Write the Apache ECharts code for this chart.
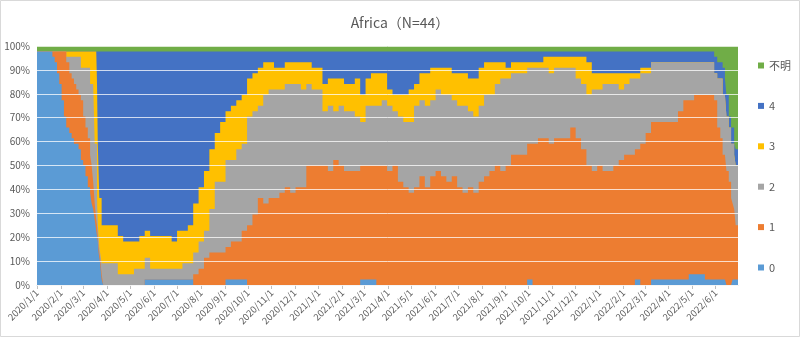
<!DOCTYPE html>
<html><head><meta charset="utf-8">
<script src="https://cdn.jsdelivr.net/npm/echarts@6/dist/echarts.min.js"></script>
<style>html,body{margin:0;padding:0;background:#fff}#c{width:800px;height:337px}</style>
</head><body><div id="c"></div>
<script>
const dates = [
'2020/1/1','2020/1/21','2020/1/24','2020/1/27','2020/1/30','2020/2/2','2020/2/5','2020/2/8','2020/2/12','2020/2/15',
'2020/2/18','2020/2/21','2020/2/24','2020/2/27','2020/3/1','2020/3/4','2020/3/7','2020/3/10','2020/3/12','2020/3/14',
'2020/3/16','2020/3/18','2020/3/19','2020/3/20','2020/3/21','2020/3/22','2020/3/23','2020/3/25','2020/3/27',
'2020/4/1','2020/4/8','2020/4/15','2020/4/22','2020/4/29','2020/5/6','2020/5/13','2020/5/20','2020/5/27','2020/6/3',
'2020/6/10','2020/6/17','2020/6/24','2020/7/1','2020/7/8','2020/7/15','2020/7/22','2020/7/29','2020/8/5','2020/8/12',
'2020/8/19','2020/8/26','2020/9/2','2020/9/9','2020/9/16','2020/9/23','2020/9/30','2020/10/7','2020/10/14','2020/10/21',
'2020/10/28','2020/11/4','2020/11/11','2020/11/18','2020/11/25','2020/12/2','2020/12/9','2020/12/16','2020/12/23','2020/12/30',
'2021/1/6','2021/1/13','2021/1/20','2021/1/27','2021/2/3','2021/2/10','2021/2/17','2021/2/24','2021/3/3','2021/3/10',
'2021/3/17','2021/3/24','2021/3/31','2021/4/7','2021/4/14','2021/4/21','2021/4/28','2021/5/5','2021/5/12','2021/5/19',
'2021/5/26','2021/6/2','2021/6/9','2021/6/16','2021/6/23','2021/6/30','2021/7/7','2021/7/14','2021/7/21','2021/7/28',
'2021/8/4','2021/8/11','2021/8/18','2021/8/25','2021/9/1','2021/9/8','2021/9/15','2021/9/22','2021/9/29','2021/10/6',
'2021/10/13','2021/10/20','2021/10/27','2021/11/3','2021/11/10','2021/11/17','2021/11/24','2021/12/1','2021/12/8','2021/12/15',
'2021/12/22','2021/12/29','2022/1/5','2022/1/12','2022/1/19','2022/1/26','2022/2/2','2022/2/9','2022/2/16','2022/2/23',
'2022/3/2','2022/3/9','2022/3/16','2022/3/23','2022/3/30','2022/4/6','2022/4/13','2022/4/20','2022/4/27','2022/5/4',
'2022/5/11','2022/5/18','2022/5/25','2022/5/30','2022/6/3','2022/6/7','2022/6/10','2022/6/13','2022/6/15','2022/6/18',
'2022/6/21','2022/6/23','2022/6/25','2022/6/27','2022/6/30'
];
// counts of countries (N=44) per level
const level0 = [
43,42,41,39,37,34,31,29,28,27, 26,26,25,23,22,20,18,17,15,14, 12,10,9,8,6,5,4,1,0,0,
0,0,0,0,0,0,1,1,1,1, 1,1,1,1,1,0,0,0,0,0, 0,1,1,1,1,0,0,0,0,0, 0,0,0,0,0,0,0,0,0,0,
0,0,0,0,0,0,1,1,1,0, 0,0,0,0,0,0,0,0,0,0, 0,0,0,0,0,0,0,0,0,0, 0,0,0,0,0,0,0,1,0,0,
0,0,0,0,0,0,0,0,0,0, 0,0,0,0,0,0,0,1,0,0, 1,1,1,1,1,1,1,2,2,2, 1,1,1,1,1,1,1,0,0,0, 1,1,1,1
];
const level1 = [
0,1,2,4,6,9,12,12,11,11, 11,10,10,11,9,9,9,7,7,5, 3,2,2,1,1,1,1,1,0,0,
0,0,0,0,0,0,0,0,0,0, 0,0,0,0,0,2,3,5,6,6, 6,6,7,7,9,11,13,16,15,16, 16,17,18,17,18,18,22,22,22,22,
21,23,22,21,21,21,21,21,21,22, 22,21,22,19,18,17,18,20,18,20, 21,20,19,20,18,17,18,17,19,20, 21,22,21,22,24,24,24,25,26,27,
27,26,27,27,27,29,27,25,22,21, 22,21,21,22,23,24,24,24,26,28, 29,29,29,29,29,31,33,32,33,33, 34,34,33,28,26,23,23,21,19,16, 14,13,10,10
];
const level2 = [
0,0,0,0,0,0,0,1,3,4, 5,6,7,6,9,11,13,13,15,18, 11,14,5,2,4,1,1,2,4,4,
4,2,2,2,3,3,4,2,2,2, 2,2,2,3,3,4,5,5,8,13, 13,16,15,17,16,20,19,17,20,20, 20,19,19,20,19,18,15,14,14,10,
12,9,11,11,11,10,8,11,11,11, 12,12,10,12,12,13,15,14,15,14, 15,15,16,14,15,16,14,14,14,15, 14,15,17,16,15,15,15,14,14,13,
13,13,13,13,13,11,11,12,13,15, 14,16,16,15,13,13,14,13,13,11, 11,11,11,11,11,9,7,7,6,6, 6,6,5,9,11,11,11,10,10,10, 11,10,11,11
];
const level3 = [
0,0,0,0,0,0,0,1,1,1, 1,1,1,3,3,3,3,6,6,6, 17,17,21,15,15,9,10,7,7,7,
7,7,6,6,5,6,5,6,6,6, 6,5,7,6,7,9,10,11,11,9, 11,9,10,9,9,7,7,7,6,5, 4,4,4,4,4,5,4,4,4,5,
5,6,5,5,5,7,5,5,6,6, 5,3,3,4,5,6,4,5,6,6, 4,5,5,5,6,6,6,7,7,6, 6,4,3,2,2,2,2,1,1,1,
2,3,2,2,2,2,4,5,6,3, 3,2,2,2,3,2,1,1,1,1, 0,0,0,0,0,0,0,0,0,0, 0,0,0,0,0,0,0,0,0,0, 0,0,0,0
];
const level4 = [
0,0,0,0,0,0,0,0,0,0, 0,0,0,0,0,0,0,0,0,0, 0,0,6,17,17,27,27,32,32,32,
32,34,35,35,35,34,33,34,34,34, 34,35,33,33,32,28,25,22,18,15, 13,11,10,9,8,5,4,3,2,2, 3,3,2,2,2,2,2,3,3,6,
5,5,5,6,6,5,8,5,4,4, 4,7,8,8,8,7,6,4,4,3, 3,3,3,4,4,4,5,5,3,2, 2,2,2,3,2,2,2,2,2,2,
1,1,1,1,1,1,1,1,2,4, 4,4,4,4,4,4,4,4,3,3, 2,2,2,2,2,2,2,2,2,2, 2,2,3,3,3,5,3,4,2,3, 3,2,3,3
];
const unknown = [
1,1,1,1,1,1,1,1,1,1, 1,1,1,1,1,1,1,1,1,1, 1,1,1,1,1,1,1,1,1,1,
1,1,1,1,1,1,1,1,1,1, 1,1,1,1,1,1,1,1,1,1, 1,1,1,1,1,1,1,1,1,1, 1,1,1,1,1,1,1,1,1,1,
1,1,1,1,1,1,1,1,1,1, 1,1,1,1,1,1,1,1,1,1, 1,1,1,1,1,1,1,1,1,1, 1,1,1,1,1,1,1,1,1,1,
1,1,1,1,1,1,1,1,1,1, 1,1,1,1,1,1,1,1,1,1, 1,1,1,1,1,1,1,1,1,1, 1,1,2,3,3,4,6,9,13,15, 15,18,19,19
];
const seriesNames = ['0','1','2','3','4','不明'];
const colors = ['#5B9BD5','#ED7D31','#A5A5A5','#FFC000','#4472C4','#70AD47'];
const monthLabels = [
'2020/1/1','2020/2/1','2020/3/1','2020/4/1','2020/5/1','2020/6/1','2020/7/1','2020/8/1','2020/9/1','2020/10/1','2020/11/1','2020/12/1',
'2021/1/1','2021/2/1','2021/3/1','2021/4/1','2021/5/1','2021/6/1','2021/7/1','2021/8/1','2021/9/1','2021/10/1','2021/11/1','2021/12/1',
'2022/1/1','2022/2/1','2022/3/1','2022/4/1','2022/5/1','2022/6/1'
];
const xStart = '2020/1/1', xEnd = '2022/6/30';

function ts(s){const p=s.split('/').map(Number);return Date.UTC(p[0],p[1]-1,p[2]);}
function fmt(v){const d=new Date(v);return d.getUTCFullYear()+'/'+(d.getUTCMonth()+1)+'/'+d.getUTCDate();}
const raw=[level0,level1,level2,level3,level4,unknown];
const totals=dates.map((_,i)=>raw.reduce((a,s)=>a+s[i],0));
const FONT='"Noto Sans CJK JP","Noto Sans",sans-serif';
// 100% stacked: each band is drawn as the cumulative share up to its level,
// top levels first so lower levels paint over them.
const series=[];
for(let k=raw.length-1;k>=0;k--){
  series.push({
    name:seriesNames[k],type:'line',step:'end',symbol:'none',showSymbol:false,
    lineStyle:{width:0},itemStyle:{color:colors[k]},areaStyle:{color:colors[k],opacity:1,origin:'start'},
    emphasis:{disabled:true},z:2,
    data:dates.map((d,i)=>{let c=0;for(let j=0;j<=k;j++)c+=raw[j][i];return [ts(d),c/totals[i]*100];})
  });
}
const monthVals=monthLabels.map(ts);
const chart=echarts.init(document.getElementById('c'),null,{renderer:'canvas'});
chart.setOption({
  animation:false,
  backgroundColor:'#fff',
  title:{text:'Africa（N=44）',left:'center',top:11,textStyle:{fontSize:14,fontWeight:'normal',color:'#595959',fontFamily:FONT}},
  legend:{data:['不明','4','3','2','1','0'],orient:'vertical',left:753,top:55,itemWidth:6,itemHeight:6,itemGap:29.4,icon:'rect',
    textStyle:{color:'#595959',fontSize:11,fontFamily:FONT},selectedMode:false},
  grid:{left:37,top:46,width:701,height:239,containLabel:false,outerBoundsMode:'none'},
  xAxis:{type:'value',min:ts(xStart),max:ts(xEnd),
    axisLine:{show:true,lineStyle:{color:'#d9d9d9'}},
    axisTick:{show:true,length:4,lineStyle:{color:'#bfbfbf'},customValues:monthVals},
    axisLabel:{rotate:45,fontSize:9.5,color:'#595959',margin:6,fontFamily:FONT,customValues:monthVals,formatter:v=>fmt(v)},
    splitLine:{show:false}},
  yAxis:{type:'value',min:0,max:100,interval:10,z:5,
    axisLine:{show:false},axisTick:{show:false},
    axisLabel:{formatter:'{value}%',fontSize:10,color:'#595959',margin:7,fontFamily:FONT},
    splitLine:{show:true,lineStyle:{color:'rgba(255,255,255,0.75)',width:1}}},
  graphic:[{type:'rect',shape:{x:0.5,y:0.5,width:799,height:336},style:{fill:'none',stroke:'#d9d9d9',lineWidth:1},silent:true}],
  series:series
});
</script></body></html>
